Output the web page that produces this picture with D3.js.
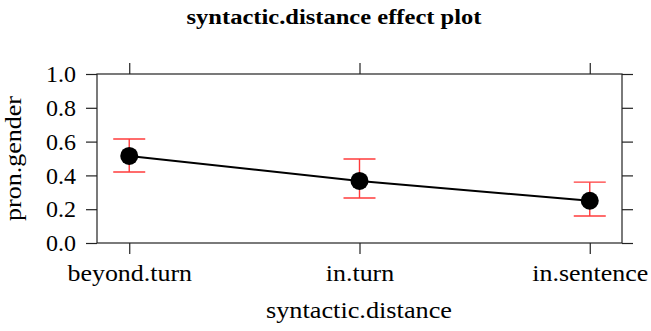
<!DOCTYPE html>
<html>
<head>
<meta charset="utf-8">
<script src="https://cdn.jsdelivr.net/npm/d3@7"></script>
<style>
  body { margin: 0; background: #fff; }
  text { font-family: 'Liberation Serif', 'Times New Roman', serif; fill: #000; }
</style>
</head>
<body>
<div id="chart"></div>
<script>
const categories = ['beyond.turn', 'in.turn', 'in.sentence']
const fitValues = [0.515, 0.367, 0.25]
const lowerValues = [0.42, 0.266, 0.16]
const upperValues = [0.615, 0.497, 0.36]
const yTicks = [0, 0.2, 0.4, 0.6, 0.8, 1.0]

const W = 651
const H = 331
const margin = { top: 74, right: 29, bottom: 88, left: 97 }
const width = W - margin.left - margin.right
const height = H - margin.top - margin.bottom
const serif = "'Liberation Serif', 'Times New Roman', serif"

const svg = d3.select('#chart').append('svg').attr('width', W).attr('height', H)

svg.append('text')
  .attr('x', 334).attr('y', 24)
  .attr('text-anchor', 'middle')
  .attr('textLength', 295).attr('lengthAdjust', 'spacingAndGlyphs')
  .style('font-size', '20px').style('font-weight', 'bold')
  .text('syntactic.distance effect plot')

const g = svg.append('g').attr('transform', `translate(${margin.left},${margin.top})`)

const x = d3.scalePoint().domain(categories).range([0, width]).padding(0.14)
const y = d3.scaleLinear().domain([0, 1]).range([height, 0])

// axes on all four sides, labels only left and bottom
const tickLen = 11
const xAxis = g.append('g').attr('class', 'ax').attr('transform', `translate(0,${height})`)
  .call(d3.axisBottom(x).tickSize(tickLen).tickPadding(10))
g.append('g').attr('class', 'ax')
  .call(d3.axisLeft(y).tickValues(yTicks).tickSize(tickLen).tickPadding(10).tickFormat(d3.format('.1f')))
g.append('g').attr('class', 'ax')
  .call(d3.axisTop(x).tickSize(tickLen).tickFormat(''))
g.append('g').attr('class', 'ax').attr('transform', `translate(${width},0)`)
  .call(d3.axisRight(y).tickValues(yTicks).tickSize(tickLen).tickFormat(''))

g.selectAll('.ax').attr('font-family', serif)
g.selectAll('.ax .domain').remove()
g.selectAll('.ax line').attr('stroke', '#222').attr('stroke-width', 1.2)
g.selectAll('.ax text').style('font-size', '24px').attr('fill', '#000')
xAxis.selectAll('text').each(function () {
  const len = this.getComputedTextLength()
  d3.select(this).attr('textLength', len * 1.08).attr('lengthAdjust', 'spacingAndGlyphs')
})

g.append('rect')
  .attr('width', width).attr('height', height)
  .attr('fill', 'none').attr('stroke', '#222').attr('stroke-width', 1.2)

// fitted line
const pts = categories.map((c, i) => [x(c), y(fitValues[i])])
g.append('path')
  .datum(pts)
  .attr('fill', 'none').attr('stroke', '#000').attr('stroke-width', 2)
  .attr('d', d3.line())

// error bars
const cap = 16
categories.forEach((c, i) => {
  const cx = x(c)
  const eb = g.append('g').attr('stroke', '#ff3b3b').attr('stroke-width', 1.4)
  eb.append('line').attr('x1', cx).attr('x2', cx).attr('y1', y(lowerValues[i])).attr('y2', y(upperValues[i]))
  eb.append('line').attr('x1', cx - cap).attr('x2', cx + cap).attr('y1', y(lowerValues[i])).attr('y2', y(lowerValues[i]))
  eb.append('line').attr('x1', cx - cap).attr('x2', cx + cap).attr('y1', y(upperValues[i])).attr('y2', y(upperValues[i]))
})

g.selectAll('circle.pt')
  .data(categories)
  .join('circle')
  .attr('class', 'pt')
  .attr('cx', (d) => x(d))
  .attr('cy', (d, i) => y(fitValues[i]))
  .attr('r', 9)
  .attr('fill', '#000')

// axis titles
svg.append('text')
  .attr('x', 359).attr('y', 318)
  .attr('text-anchor', 'middle').style('font-size', '24px')
  .attr('textLength', 186).attr('lengthAdjust', 'spacingAndGlyphs')
  .text('syntactic.distance')

svg.append('text')
  .attr('transform', `translate(21,${margin.top + height / 2}) rotate(-90)`)
  .attr('text-anchor', 'middle').style('font-size', '24px')
  .attr('textLength', 125).attr('lengthAdjust', 'spacingAndGlyphs')
  .text('pron.gender')
</script>
</body>
</html>
